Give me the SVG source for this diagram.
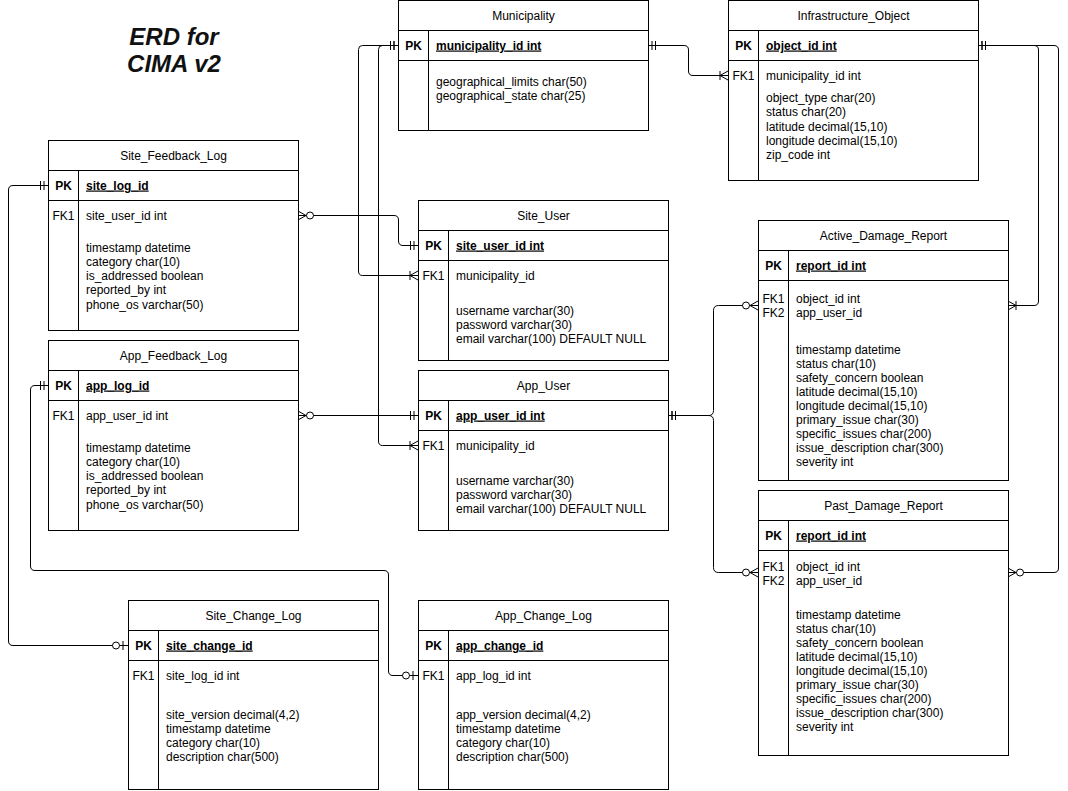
<svg xmlns="http://www.w3.org/2000/svg" width="1068" height="791" viewBox="0 0 1068 791">
<style>
.box{fill:#fff;stroke:#000;stroke-width:1}
.ln{stroke:#000;stroke-width:1;fill:none}
text{font-family:"Liberation Sans",Arial,sans-serif;font-size:12px;fill:#000}
.h{text-anchor:middle}
.pk{font-weight:bold;text-anchor:middle}
.k{text-anchor:middle}
.pkn{font-weight:bold;text-decoration:underline}
.title{font-size:24px;font-weight:bold;font-style:italic;text-anchor:middle;fill:#111}
.c{fill:none;stroke:#000;stroke-width:1}
</style>
<defs>
<marker id="mOne" markerUnits="userSpaceOnUse" markerWidth="20" markerHeight="12" viewBox="-20 -6 20 12" refX="0" refY="0" orient="auto-start-reverse" overflow="visible">
<path d="M-4,-4.5V4.5M-7.5,-4.5V4.5" stroke="#000" fill="none"/>
</marker>
<marker id="oneMany" markerUnits="userSpaceOnUse" markerWidth="20" markerHeight="12" viewBox="-20 -6 20 12" refX="0" refY="0" orient="auto-start-reverse" overflow="visible">
<path d="M-8,-4.5V4.5M0,-4.5L-8,0L0,4.5" stroke="#000" fill="none"/>
</marker>
<marker id="zeroMany" markerUnits="userSpaceOnUse" markerWidth="20" markerHeight="12" viewBox="-20 -6 20 12" refX="0" refY="0" orient="auto-start-reverse" overflow="visible">
<path d="M0,-4.5L-8,0L0,4.5" stroke="#000" fill="none"/>
<circle cx="-12" cy="0" r="3.5" fill="#fff" stroke="#000"/>
</marker>
<marker id="zeroOne" markerUnits="userSpaceOnUse" markerWidth="20" markerHeight="12" viewBox="-20 -6 20 12" refX="0" refY="0" orient="auto-start-reverse" overflow="visible">
<path d="M-5,-4.5V4.5" stroke="#000" fill="none"/>
<circle cx="-12" cy="0" r="3.5" fill="#fff" stroke="#000"/>
</marker>
</defs>
<rect width="1068" height="791" fill="#fff"/>

<g id="title">
<text class="title" x="174" y="45">ERD for</text>
<text class="title" x="174" y="72">CIMA v2</text>
</g>

<g id="connectors">
<!-- Municipality -> Site_User -->
<path class="c" d="M398,45.5H362.5Q358.5,45.5 358.5,49.5V271Q358.5,275.5 362.5,275.5H418" marker-start="url(#mOne)" marker-end="url(#oneMany)"/>
<!-- Municipality -> App_User -->
<path class="c" d="M398,45.5H382.5Q378.5,45.5 378.5,49.5V441Q378.5,445.5 382.5,445.5H418" marker-start="url(#mOne)" marker-end="url(#oneMany)"/>
<!-- Municipality -> Infrastructure_Object -->
<path class="c" d="M648,45.5H684Q688.5,45.5 688.5,50V71Q688.5,75.5 693,75.5H728" marker-start="url(#mOne)" marker-end="url(#oneMany)"/>
<!-- Infrastructure_Object -> Active_Damage_Report -->
<path class="c" d="M978,45.5H1034Q1038.5,45.5 1038.5,50V301Q1038.5,305.5 1034,305.5H1008" marker-start="url(#mOne)" marker-end="url(#oneMany)"/>
<!-- Infrastructure_Object -> Past_Damage_Report -->
<path class="c" d="M978,45.5H1054Q1058.5,45.5 1058.5,50V568Q1058.5,572.5 1054,572.5H1008" marker-start="url(#mOne)" marker-end="url(#zeroMany)"/>
<!-- App_User -> Active_Damage_Report -->
<path class="c" d="M668,415.5H708.5Q713.5,415.5 713.5,410.5V310.5Q713.5,305.5 718.5,305.5H758" marker-start="url(#mOne)" marker-end="url(#zeroMany)"/>
<!-- App_User -> Past_Damage_Report -->
<path class="c" d="M668,415.5H708.5Q713.5,415.5 713.5,420.5V567.5Q713.5,572.5 718.5,572.5H758" marker-start="url(#mOne)" marker-end="url(#zeroMany)"/>
<!-- Site_Feedback_Log -> Site_User -->
<path class="c" d="M298,215.5H394Q398.5,215.5 398.5,220V241Q398.5,245.5 403,245.5H418" marker-start="url(#zeroMany)" marker-end="url(#mOne)"/>
<!-- App_Feedback_Log -> App_User -->
<path class="c" d="M298,415.5H418" marker-start="url(#zeroMany)" marker-end="url(#mOne)"/>
<!-- Site_Feedback_Log -> Site_Change_Log -->
<path class="c" d="M48,185.5H13Q8.5,185.5 8.5,190V641Q8.5,645.5 13,645.5H128" marker-start="url(#mOne)" marker-end="url(#zeroOne)"/>
<!-- App_Feedback_Log -> App_Change_Log -->
<path class="c" d="M48,385.5H35Q30.5,385.5 30.5,390V566Q30.5,570.5 35,570.5H384Q388.5,570.5 388.5,575V671Q388.5,675.5 393,675.5H418" marker-start="url(#mOne)" marker-end="url(#zeroOne)"/>
</g>

<g id="municipality">
<rect class="box" x="398.5" y="0.5" width="250" height="130"/>
<path class="ln" d="M398.5,30.5H648.5M398.5,60.5H648.5M428.5,30.5V130.5"/>
<text class="h" x="523.5" y="19.5">Municipality</text>
<text class="pk" x="413.5" y="49.5">PK</text>
<text class="pkn" x="436" y="49.5">municipality_id int</text>
<text x="436" y="85.5">geographical_limits char(50)</text>
<text x="436" y="100">geographical_state char(25)</text>
</g>

<g id="infrastructure_object">
<rect class="box" x="728.5" y="0.5" width="250" height="180"/>
<path class="ln" d="M728.5,30.5H978.5M728.5,60.5H978.5M758.5,30.5V180.5"/>
<text class="h" x="853.5" y="19.5">Infrastructure_Object</text>
<text class="pk" x="743.5" y="49.5">PK</text>
<text class="pkn" x="766" y="49.5">object_id int</text>
<text class="k" x="743.5" y="79.5">FK1</text>
<text x="766" y="79.5">municipality_id int</text>
<text x="766" y="102">object_type char(20)</text>
<text x="766" y="116.3">status char(20)</text>
<text x="766" y="130.6">latitude decimal(15,10)</text>
<text x="766" y="144.9">longitude decimal(15,10)</text>
<text x="766" y="159.2">zip_code int</text>
</g>

<g id="site_feedback_log">
<rect class="box" x="48.5" y="140.5" width="250" height="190"/>
<path class="ln" d="M48.5,170.5H298.5M48.5,200.5H298.5M78.5,170.5V330.5"/>
<text class="h" x="173.5" y="159.5">Site_Feedback_Log</text>
<text class="pk" x="63.5" y="189.5">PK</text>
<text class="pkn" x="86" y="189.5">site_log_id</text>
<text class="k" x="63.5" y="219.5">FK1</text>
<text x="86" y="219.5">site_user_id int</text>
<text x="86" y="251.5">timestamp datetime</text>
<text x="86" y="265.8">category char(10)</text>
<text x="86" y="280.1">is_addressed boolean</text>
<text x="86" y="294.4">reported_by int</text>
<text x="86" y="308.7">phone_os varchar(50)</text>
</g>

<g id="site_user">
<rect class="box" x="418.5" y="200.5" width="250" height="160"/>
<path class="ln" d="M418.5,230.5H668.5M418.5,260.5H668.5M448.5,230.5V360.5"/>
<text class="h" x="543.5" y="219.5">Site_User</text>
<text class="pk" x="433.5" y="249.5">PK</text>
<text class="pkn" x="456" y="249.5">site_user_id int</text>
<text class="k" x="433.5" y="279.5">FK1</text>
<text x="456" y="279.5">municipality_id</text>
<text x="456" y="314.5">username varchar(30)</text>
<text x="456" y="328.8">password varchar(30)</text>
<text x="456" y="343.1">email varchar(100) DEFAULT NULL</text>
</g>

<g id="active_damage_report">
<rect class="box" x="758.5" y="220.5" width="250" height="260"/>
<path class="ln" d="M758.5,250.5H1008.5M758.5,280.5H1008.5M788.5,250.5V480.5"/>
<text class="h" x="883.5" y="239.5">Active_Damage_Report</text>
<text class="pk" x="773.5" y="269.5">PK</text>
<text class="pkn" x="796" y="269.5">report_id int</text>
<text class="k" x="773.5" y="302.5">FK1</text>
<text class="k" x="773.5" y="316.5">FK2</text>
<text x="796" y="302.5">object_id int</text>
<text x="796" y="316.5">app_user_id</text>
<text x="796" y="353.5">timestamp datetime</text>
<text x="796" y="367.5">status char(10)</text>
<text x="796" y="381.5">safety_concern boolean</text>
<text x="796" y="395.5">latitude decimal(15,10)</text>
<text x="796" y="409.5">longitude decimal(15,10)</text>
<text x="796" y="423.5">primary_issue char(30)</text>
<text x="796" y="437.5">specific_issues char(200)</text>
<text x="796" y="451.5">issue_description char(300)</text>
<text x="796" y="465.5">severity int</text>
</g>

<g id="app_feedback_log">
<rect class="box" x="48.5" y="340.5" width="250" height="190"/>
<path class="ln" d="M48.5,370.5H298.5M48.5,400.5H298.5M78.5,370.5V530.5"/>
<text class="h" x="173.5" y="359.5">App_Feedback_Log</text>
<text class="pk" x="63.5" y="389.5">PK</text>
<text class="pkn" x="86" y="389.5">app_log_id</text>
<text class="k" x="63.5" y="419.5">FK1</text>
<text x="86" y="419.5">app_user_id int</text>
<text x="86" y="451.5">timestamp datetime</text>
<text x="86" y="465.8">category char(10)</text>
<text x="86" y="480.1">is_addressed boolean</text>
<text x="86" y="494.4">reported_by int</text>
<text x="86" y="508.7">phone_os varchar(50)</text>
</g>

<g id="app_user">
<rect class="box" x="418.5" y="370.5" width="250" height="160"/>
<path class="ln" d="M418.5,400.5H668.5M418.5,430.5H668.5M448.5,400.5V530.5"/>
<text class="h" x="543.5" y="389.5">App_User</text>
<text class="pk" x="433.5" y="419.5">PK</text>
<text class="pkn" x="456" y="419.5">app_user_id int</text>
<text class="k" x="433.5" y="449.5">FK1</text>
<text x="456" y="449.5">municipality_id</text>
<text x="456" y="484.5">username varchar(30)</text>
<text x="456" y="498.8">password varchar(30)</text>
<text x="456" y="513.1">email varchar(100) DEFAULT NULL</text>
</g>

<g id="past_damage_report">
<rect class="box" x="758.5" y="490.5" width="250" height="265"/>
<path class="ln" d="M758.5,520.5H1008.5M758.5,550.5H1008.5M788.5,520.5V755.5"/>
<text class="h" x="883.5" y="509.5">Past_Damage_Report</text>
<text class="pk" x="773.5" y="539.5">PK</text>
<text class="pkn" x="796" y="539.5">report_id int</text>
<text class="k" x="773.5" y="570.5">FK1</text>
<text class="k" x="773.5" y="584.5">FK2</text>
<text x="796" y="570.5">object_id int</text>
<text x="796" y="584.5">app_user_id</text>
<text x="796" y="618.5">timestamp datetime</text>
<text x="796" y="632.5">status char(10)</text>
<text x="796" y="646.5">safety_concern boolean</text>
<text x="796" y="660.5">latitude decimal(15,10)</text>
<text x="796" y="674.5">longitude decimal(15,10)</text>
<text x="796" y="688.5">primary_issue char(30)</text>
<text x="796" y="702.5">specific_issues char(200)</text>
<text x="796" y="716.5">issue_description char(300)</text>
<text x="796" y="730.5">severity int</text>
</g>

<g id="site_change_log">
<rect class="box" x="128.5" y="600.5" width="250" height="189"/>
<path class="ln" d="M128.5,630.5H378.5M128.5,660.5H378.5M158.5,630.5V789.5"/>
<text class="h" x="253.5" y="619.5">Site_Change_Log</text>
<text class="pk" x="143.5" y="649.5">PK</text>
<text class="pkn" x="166" y="649.5">site_change_id</text>
<text class="k" x="143.5" y="679.5">FK1</text>
<text x="166" y="679.5">site_log_id int</text>
<text x="166" y="719">site_version decimal(4,2)</text>
<text x="166" y="733">timestamp datetime</text>
<text x="166" y="747">category char(10)</text>
<text x="166" y="761">description char(500)</text>
</g>

<g id="app_change_log">
<rect class="box" x="418.5" y="600.5" width="250" height="189"/>
<path class="ln" d="M418.5,630.5H668.5M418.5,660.5H668.5M448.5,630.5V789.5"/>
<text class="h" x="543.5" y="619.5">App_Change_Log</text>
<text class="pk" x="433.5" y="649.5">PK</text>
<text class="pkn" x="456" y="649.5">app_change_id</text>
<text class="k" x="433.5" y="679.5">FK1</text>
<text x="456" y="679.5">app_log_id int</text>
<text x="456" y="719">app_version decimal(4,2)</text>
<text x="456" y="733">timestamp datetime</text>
<text x="456" y="747">category char(10)</text>
<text x="456" y="761">description char(500)</text>
</g>
</svg>
